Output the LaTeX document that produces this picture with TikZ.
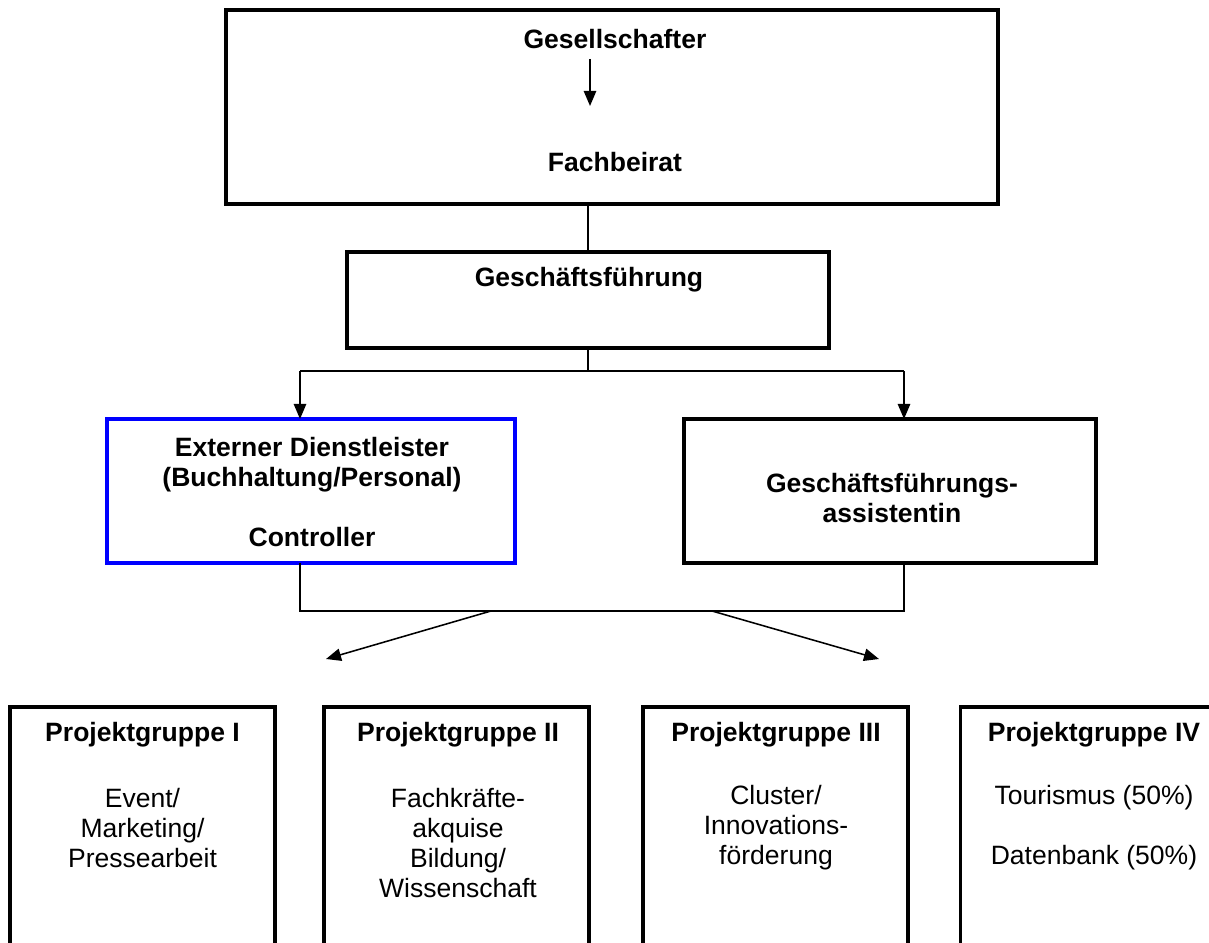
\documentclass[tikz,border=0pt]{standalone}
\usepackage{fontspec}
\setmainfont{Liberation Sans}
\usetikzlibrary{arrows.meta}
\newcommand{\pu}{0.4525pt}
\newcommand{\fsize}{\fontsize{12}{13.6}\selectfont}
\tikzset{box/.style={draw, line width=1.8pt, inner sep=0pt, outer sep=0pt},
  txt/.style={draw=none, inner sep=0pt, align=center, font=\fsize},
  btxt/.style={txt, font=\fsize\bfseries}}

\begin{document}
\begin{tikzpicture}[x=\pu, y=-\pu, >={Triangle[length=6.8pt, width=5.6pt]},
  line width=0.7pt]
  \useasboundingbox (0,0) rectangle (1209,943);
  \clip (0,0) rectangle (1209,943);
  % upper part
  \node[box, minimum width=772*\pu, minimum height=194*\pu] (gremium) at (612,107) {};
  \node[btxt] (ges)  at (615,39)  {Gesellschafter};
  \node[btxt] (fach) at (615,162) {Fachbeirat};
  \coordinate (g1) at (590,59);
  \coordinate (g2) at (590,106);
  \draw[->] (g1) -- (g2);
  \node[box, minimum width=482*\pu, minimum height=96*\pu] (gf) at (588,300) {};
  \node[btxt] (gftxt) at (589,280) {Geschäftsführung};
  \draw (gf.north) -- (gf.north |- gremium.south);
  % middle part
  \node[box, draw=blue, minimum width=408*\pu, minimum height=144*\pu] (ext) at (311,491) {};
  \node[btxt] (exttxt) at (312,492) {Externer Dienstleister\\(Buchhaltung/Personal)\\[13.6pt]Controller};
  \node[box, minimum width=412*\pu, minimum height=144*\pu] (ga) at (890,491) {};
  \node[btxt] (gatxt) at (892,498) {Geschäftsführungs-\\assistentin};
  \coordinate (jl) at (300,371);
  \coordinate (jr) at (904,371);
  \draw (gf.south) -- (gf.south |- jl);
  \draw (jl) -- (jr);
  \draw[->] (jl) -- (jl |- ext.north);
  \draw[->] (jr) -- (jr |- ga.north);
  \coordinate (bl) at (300,611);
  \coordinate (br) at (904,611);
  \draw (ext.south -| bl) -- (bl) -- (br) -- (ga.south -| br);
  \coordinate (al) at (491,611);
  \coordinate (ar) at (712,611);
  \coordinate (tl) at (326,659);
  \coordinate (tr) at (879,659);
  \draw[->] (al) -- (tl);
  \draw[->] (ar) -- (tr);
  % project groups
  \node[box, minimum width=265*\pu, minimum height=293*\pu] (pg1) at (142.5,853.5) {};
  \node[box, minimum width=265*\pu, minimum height=293*\pu] (pg2) at (456.5,853.5) {};
  \node[box, minimum width=265*\pu, minimum height=293*\pu] (pg3) at (775.5,853.5) {};
  \node[box, minimum width=265*\pu, minimum height=293*\pu] (pg4) at (1093,853.5) {};
  \node[btxt] (pg1t) at (142.5,735) {Projektgruppe I};
  \node[btxt] (pg2t) at (458,735)   {Projektgruppe II};
  \node[btxt] (pg3t) at (776,735)   {Projektgruppe III};
  \node[btxt] (pg4t) at (1094,735)  {Projektgruppe IV};
  \node[txt] (pg1b) at (142.5,828) {Event/\\Marketing/\\Pressearbeit};
  \node[txt] (pg2b) at (458,843)   {Fachkräfte-\\akquise\\Bildung/\\Wissenschaft};
  \node[txt] (pg3b) at (776,828)   {Cluster/\\Innovations-\\förderung};
  \node[txt] (pg4b) at (1094,828)  {Tourismus (50\%)\\[13.6pt]Datenbank (50\%)};
\end{tikzpicture}
\end{document}
